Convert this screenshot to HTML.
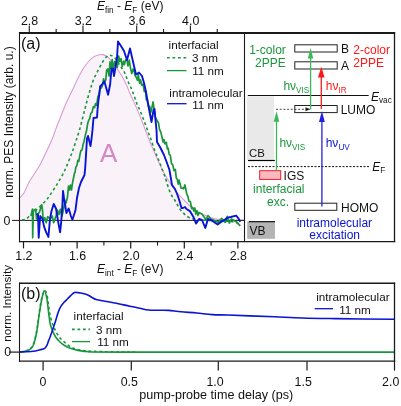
<!DOCTYPE html>
<html><head><meta charset="utf-8"><style>
html,body{margin:0;padding:0;background:#fff;}
svg{display:block;will-change:transform;}
text{font-family:"Liberation Sans",sans-serif;}
</style></head><body>
<svg width="401" height="406" viewBox="0 0 401 406">
<rect width="401" height="406" fill="#fff"/>
<path d="M19.00,198.60 C19.83,197.67 22.35,195.68 24.00,193.00 C25.65,190.32 26.45,186.82 28.90,182.50 C31.35,178.18 35.83,172.13 38.70,167.10 C41.57,162.07 43.88,156.90 46.10,152.30 C48.32,147.70 50.28,143.63 52.00,139.50 C53.72,135.37 54.83,131.58 56.40,127.50 C57.97,123.42 59.73,119.17 61.40,115.00 C63.07,110.83 64.55,106.67 66.40,102.50 C68.25,98.33 70.73,93.70 72.50,90.00 C74.27,86.30 75.58,83.22 77.00,80.30 C78.42,77.38 79.67,74.88 81.00,72.50 C82.33,70.12 83.67,67.92 85.00,66.00 C86.33,64.08 87.67,62.43 89.00,61.00 C90.33,59.57 91.50,58.40 93.00,57.40 C94.50,56.40 96.33,55.47 98.00,55.00 C99.67,54.53 101.33,54.23 103.00,54.60 C104.67,54.97 106.33,55.80 108.00,57.20 C109.67,58.60 111.33,60.87 113.00,63.00 C114.67,65.13 116.33,67.50 118.00,70.00 C119.67,72.50 121.58,75.50 123.00,78.00 C124.42,80.50 125.33,82.42 126.50,85.00 C127.67,87.58 128.92,91.00 130.00,93.50 C131.08,96.00 132.08,98.00 133.00,100.00 C133.92,102.00 134.33,102.83 135.50,105.50 C136.67,108.17 138.42,112.08 140.00,116.00 C141.58,119.92 143.33,124.67 145.00,129.00 C146.67,133.33 148.33,137.92 150.00,142.00 C151.67,146.08 153.33,149.67 155.00,153.50 C156.67,157.33 158.50,161.75 160.00,165.00 C161.50,168.25 162.33,170.00 164.00,173.00 C165.67,176.00 168.17,180.17 170.00,183.00 C171.83,185.83 173.33,187.83 175.00,190.00 C176.67,192.17 178.33,194.17 180.00,196.00 C181.67,197.83 183.33,199.33 185.00,201.00 C186.67,202.67 188.33,204.53 190.00,206.00 C191.67,207.47 193.33,208.68 195.00,209.80 C196.67,210.92 198.33,211.78 200.00,212.70 C201.67,213.62 203.33,214.55 205.00,215.30 C206.67,216.05 207.83,216.53 210.00,217.20 C212.17,217.87 215.00,218.80 218.00,219.30 C221.00,219.80 223.67,220.02 228.00,220.20 C232.33,220.38 241.33,220.37 244.00,220.40 L244,219.2 L19,219.2 Z" fill="#f9f2f9" stroke="none"/>
<path d="M19.00,198.60 C19.83,197.67 22.35,195.68 24.00,193.00 C25.65,190.32 26.45,186.82 28.90,182.50 C31.35,178.18 35.83,172.13 38.70,167.10 C41.57,162.07 43.88,156.90 46.10,152.30 C48.32,147.70 50.28,143.63 52.00,139.50 C53.72,135.37 54.83,131.58 56.40,127.50 C57.97,123.42 59.73,119.17 61.40,115.00 C63.07,110.83 64.55,106.67 66.40,102.50 C68.25,98.33 70.73,93.70 72.50,90.00 C74.27,86.30 75.58,83.22 77.00,80.30 C78.42,77.38 79.67,74.88 81.00,72.50 C82.33,70.12 83.67,67.92 85.00,66.00 C86.33,64.08 87.67,62.43 89.00,61.00 C90.33,59.57 91.50,58.40 93.00,57.40 C94.50,56.40 96.33,55.47 98.00,55.00 C99.67,54.53 101.33,54.23 103.00,54.60 C104.67,54.97 106.33,55.80 108.00,57.20 C109.67,58.60 111.33,60.87 113.00,63.00 C114.67,65.13 116.33,67.50 118.00,70.00 C119.67,72.50 121.58,75.50 123.00,78.00 C124.42,80.50 125.33,82.42 126.50,85.00 C127.67,87.58 128.92,91.00 130.00,93.50 C131.08,96.00 132.08,98.00 133.00,100.00 C133.92,102.00 134.33,102.83 135.50,105.50 C136.67,108.17 138.42,112.08 140.00,116.00 C141.58,119.92 143.33,124.67 145.00,129.00 C146.67,133.33 148.33,137.92 150.00,142.00 C151.67,146.08 153.33,149.67 155.00,153.50 C156.67,157.33 158.50,161.75 160.00,165.00 C161.50,168.25 162.33,170.00 164.00,173.00 C165.67,176.00 168.17,180.17 170.00,183.00 C171.83,185.83 173.33,187.83 175.00,190.00 C176.67,192.17 178.33,194.17 180.00,196.00 C181.67,197.83 183.33,199.33 185.00,201.00 C186.67,202.67 188.33,204.53 190.00,206.00 C191.67,207.47 193.33,208.68 195.00,209.80 C196.67,210.92 198.33,211.78 200.00,212.70 C201.67,213.62 203.33,214.55 205.00,215.30 C206.67,216.05 207.83,216.53 210.00,217.20 C212.17,217.87 215.00,218.80 218.00,219.30 C221.00,219.80 223.67,220.02 228.00,220.20 C232.33,220.38 241.33,220.37 244.00,220.40" fill="none" stroke="#dc9ad6" stroke-width="1.1"/>
<text x="108.60" y="162.00" font-size="26" text-anchor="middle" fill="#d488c4" >A</text>
<line x1="12" y1="220.4" x2="245" y2="220.4" stroke="#1a1a1a" stroke-width="1"/>
<path d="M22.00,220.00 C22.67,219.87 24.83,219.78 26.00,219.20 C27.17,218.62 27.83,217.45 29.00,216.50 C30.17,215.55 31.38,214.97 33.00,213.50 C34.62,212.03 36.52,209.90 38.70,207.70 C40.88,205.50 44.22,202.42 46.10,200.30 C47.98,198.18 48.52,197.13 50.00,195.00 C51.48,192.87 53.50,189.83 55.00,187.50 C56.50,185.17 57.58,183.42 59.00,181.00 C60.42,178.58 62.25,175.42 63.50,173.00 C64.75,170.58 65.33,169.25 66.50,166.50 C67.67,163.75 69.42,159.25 70.50,156.50 C71.58,153.75 72.08,152.58 73.00,150.00 C73.92,147.42 74.92,144.33 76.00,141.00 C77.08,137.67 78.42,133.75 79.50,130.00 C80.58,126.25 81.58,122.08 82.50,118.50 C83.42,114.92 84.25,111.42 85.00,108.50 C85.75,105.58 86.25,103.75 87.00,101.00 C87.75,98.25 88.75,94.58 89.50,92.00 C90.25,89.42 90.75,87.75 91.50,85.50 C92.25,83.25 92.92,81.00 94.00,78.50 C95.08,76.00 96.67,73.08 98.00,70.50 C99.33,67.92 100.67,65.20 102.00,63.00 C103.33,60.80 104.67,58.60 106.00,57.30 C107.33,56.00 108.50,55.08 110.00,55.20 C111.50,55.32 113.50,56.53 115.00,58.00 C116.50,59.47 117.83,62.25 119.00,64.00 C120.17,65.75 121.00,66.92 122.00,68.50 C123.00,70.08 124.00,71.33 125.00,73.50 C126.00,75.67 126.92,78.92 128.00,81.50 C129.08,84.08 130.42,86.42 131.50,89.00 C132.58,91.58 133.58,94.50 134.50,97.00 C135.42,99.50 136.08,101.75 137.00,104.00 C137.92,106.25 139.00,108.17 140.00,110.50 C141.00,112.83 142.00,115.42 143.00,118.00 C144.00,120.58 145.08,123.50 146.00,126.00 C146.92,128.50 147.67,130.75 148.50,133.00 C149.33,135.25 150.08,136.92 151.00,139.50 C151.92,142.08 153.00,145.75 154.00,148.50 C155.00,151.25 156.08,153.75 157.00,156.00 C157.92,158.25 158.67,159.83 159.50,162.00 C160.33,164.17 161.17,166.75 162.00,169.00 C162.83,171.25 163.75,173.42 164.50,175.50 C165.25,177.58 165.75,179.17 166.50,181.50 C167.25,183.83 168.08,187.08 169.00,189.50 C169.92,191.92 171.00,194.17 172.00,196.00 C173.00,197.83 174.17,199.17 175.00,200.50 C175.83,201.83 176.25,202.67 177.00,204.00 C177.75,205.33 178.60,207.17 179.50,208.50 C180.40,209.83 181.32,210.83 182.40,212.00 C183.48,213.17 184.75,214.50 186.00,215.50 C187.25,216.50 188.40,217.37 189.90,218.00 C191.40,218.63 193.32,218.97 195.00,219.30 C196.68,219.63 197.50,219.80 200.00,220.00 C202.50,220.20 206.67,220.33 210.00,220.50 C213.33,220.67 216.67,220.83 220.00,221.00 C223.33,221.17 227.33,221.25 230.00,221.50 C232.67,221.75 234.25,221.92 236.00,222.50 C237.75,223.08 239.75,224.58 240.50,225.00" fill="none" stroke="#19963c" stroke-width="1.6" stroke-dasharray="2.8 2.7"/>
<path d="M31.00,216.00 L31.80,212.00 L32.50,209.00 L32.70,237.70 L33.30,212.00 L34.20,210.00 L35.70,209.20 L36.50,219.00 L38.00,214.00 L39.50,212.00 L41.70,204.70 L42.50,210.00 L43.20,222.00 L44.70,217.50 L46.20,222.70 L47.70,216.70 L50.00,219.00 L52.20,216.00 L53.70,222.70 L56.00,216.00 L57.40,210.00 L59.00,214.50 L60.40,209.20 L62.00,216.00 L63.40,210.00 L65.00,201.00 L66.00,203.00 L67.50,197.00 L68.50,186.00 L69.50,190.00 L70.50,185.00 L71.50,190.00 L72.50,183.00 L73.50,178.00 L74.50,173.00 L75.00,172.44 L75.86,167.35 L76.97,165.11 L77.84,160.44 L78.79,161.32 L79.83,155.39 L80.82,150.77 L82.09,149.88 L83.12,144.16 L84.06,141.44 L85.21,135.60 L86.42,131.28 L87.72,123.41 L88.61,120.43 L89.71,118.63 L90.85,113.41 L92.00,112.42 L93.34,106.66 L94.56,107.65 L95.54,103.49 L96.62,105.40 L97.86,96.98 L99.17,93.16 L100.48,85.58 L101.53,87.89 L102.44,85.42 L103.53,78.82 L104.59,82.15 L105.79,79.83 L106.65,70.04 L107.91,68.82 L109.08,76.05 L110.00,61.84 L110.91,68.31 L112.21,59.69 L113.23,72.01 L114.60,61.47 L115.48,65.23 L116.39,60.96 L117.30,67.40 L118.66,56.03 L119.69,61.56 L120.94,58.64 L122.31,66.30 L123.54,61.24 L124.38,64.52 L125.59,59.84 L126.96,59.87 L127.91,65.95 L129.23,60.13 L130.49,68.09 L131.75,73.43 L133.01,69.18 L134.05,70.28 L134.97,75.25 L136.24,77.43 L137.42,80.28 L138.26,74.38 L139.59,83.19 L140.54,79.76 L141.68,85.06 L143.01,84.10 L144.33,91.58 L145.45,90.22 L146.37,99.92 L147.46,99.52 L148.57,106.38 L149.70,106.46 L150.81,112.37 L151.88,107.76 L153.08,101.95 L154.42,111.20 L155.39,117.62 L156.29,119.24 L157.25,120.64 L158.57,123.43 L159.47,129.17 L160.82,132.10 L162.10,137.45 L163.12,142.00 L163.95,139.52 L164.96,143.82 L166.33,142.43 L167.30,148.84 L168.19,148.17 L169.16,154.35 L170.37,155.33 L171.43,163.40 L172.69,164.73 L173.99,170.59 L175.33,169.42 L176.28,177.87 L177.22,179.20 L178.21,184.14 L179.04,180.07 L180.17,184.15 L181.05,188.11 L182.34,188.04 L183.70,188.77 L184.88,184.93 L185.77,188.81 L186.69,193.80 L187.88,196.28 L188.96,201.23 L190.31,201.51 L191.67,208.58 L192.70,207.30 L193.81,210.93 L194.85,208.00 L195.80,214.07 L196.99,210.73 L198.00,215.51 L199.17,212.73 L202.00,214.00 L206.00,219.70 L208.00,215.60 L211.00,219.00 L214.20,220.40 L218.30,222.40 L221.70,218.30 L225.20,222.40 L227.20,216.30 L229.30,223.10 L231.40,219.00 L236.20,221.70 L240.30,225.90" fill="none" stroke="#19963c" stroke-width="1.7" stroke-linejoin="round"/>
<path d="M36.50,214.00 L38.00,214.50 L38.70,237.70 L40.20,216.00 L42.50,219.00 L44.00,226.40 L46.20,232.40 L48.40,236.90 L50.00,219.00 L51.40,211.50 L53.70,204.00 L56.00,208.50 L58.20,222.00 L60.10,232.40 L61.20,222.00 L62.40,205.00 L63.00,191.00 L64.00,198.00 L65.00,204.00 L66.40,213.00 L68.70,208.50 L70.90,216.00 L72.40,219.70 L74.60,213.00 L75.50,210.00 L77.00,198.00 L79.00,188.00 L81.00,182.00 L83.00,178.00 L84.50,175.00 L85.20,168.00 L86.00,155.00 L87.00,138.50 L88.00,136.00 L90.50,146.00 L91.50,139.00 L92.50,130.00 L93.50,118.00 L97.00,117.50 L97.50,110.00 L98.50,100.00 L99.50,93.00 L100.20,86.50 L102.20,84.40 L104.40,81.40 L108.10,94.70 L110.20,84.00 L111.50,68.50 L113.00,69.00 L114.00,76.00 L115.00,70.00 L117.00,58.00 L118.00,41.50 L121.00,46.00 L124.00,51.00 L127.00,60.00 L130.00,48.50 L131.50,55.00 L134.00,66.00 L136.00,74.50 L139.00,72.50 L142.00,76.00 L144.00,83.00 L146.00,92.00 L147.50,101.00 L151.50,122.00 L153.50,110.00 L154.50,109.00 L155.50,120.00 L156.50,130.00 L157.00,142.00 L160.00,147.00 L164.00,155.00 L167.00,163.00 L169.50,170.00 L170.50,176.00 L172.00,185.00 L175.00,189.00 L177.50,195.00 L179.50,201.00 L181.50,208.00 L183.00,208.00 L185.00,207.00 L186.50,209.00 L189.90,211.10 L193.60,217.30 L196.10,223.60 L199.10,219.00 L202.00,220.00 L205.30,227.90 L208.00,219.00 L211.50,220.40 L214.00,222.00 L217.60,224.50 L220.40,222.40 L223.80,220.40 L227.90,217.60 L230.70,217.00 L236.20,215.60 L238.90,219.00 L240.30,221.70" fill="none" stroke="#0a14d2" stroke-width="1.9" stroke-linejoin="round"/>
<line x1="19.50" y1="32.10" x2="19.50" y2="242.20" stroke="#1a1a1a" stroke-width="1.1"/>
<line x1="18.95" y1="33.00" x2="395.15" y2="33.00" stroke="#1a1a1a" stroke-width="1.8"/>
<line x1="394.50" y1="32.10" x2="394.50" y2="242.20" stroke="#1a1a1a" stroke-width="1.3"/>
<line x1="18.95" y1="241.60" x2="395.15" y2="241.60" stroke="#1a1a1a" stroke-width="1.3"/>
<line x1="244.50" y1="33.00" x2="244.50" y2="241.60" stroke="#1a1a1a" stroke-width="1.1"/>
<line x1="29.30" y1="25.5" x2="29.30" y2="33" stroke="#1a1a1a" stroke-width="1.1"/>
<text x="29.60" y="24.80" font-size="12.4" text-anchor="middle" fill="#111" >2.8</text>
<line x1="56.15" y1="29" x2="56.15" y2="33" stroke="#1a1a1a" stroke-width="1.1"/>
<line x1="83.00" y1="25.5" x2="83.00" y2="33" stroke="#1a1a1a" stroke-width="1.1"/>
<text x="83.30" y="24.80" font-size="12.4" text-anchor="middle" fill="#111" >3.2</text>
<line x1="109.85" y1="29" x2="109.85" y2="33" stroke="#1a1a1a" stroke-width="1.1"/>
<line x1="136.70" y1="25.5" x2="136.70" y2="33" stroke="#1a1a1a" stroke-width="1.1"/>
<text x="137.00" y="24.80" font-size="12.4" text-anchor="middle" fill="#111" >3.6</text>
<line x1="163.55" y1="29" x2="163.55" y2="33" stroke="#1a1a1a" stroke-width="1.1"/>
<line x1="190.40" y1="25.5" x2="190.40" y2="33" stroke="#1a1a1a" stroke-width="1.1"/>
<text x="190.70" y="24.80" font-size="12.4" text-anchor="middle" fill="#111" >4.0</text>
<line x1="217.25" y1="29" x2="217.25" y2="33" stroke="#1a1a1a" stroke-width="1.1"/>
<line x1="23.50" y1="241.6" x2="23.50" y2="248.4" stroke="#1a1a1a" stroke-width="1.2"/>
<text x="23.90" y="260.00" font-size="12.4" text-anchor="middle" fill="#111" >1.2</text>
<line x1="50.30" y1="241.6" x2="50.30" y2="245.5" stroke="#1a1a1a" stroke-width="1.1"/>
<line x1="77.10" y1="241.6" x2="77.10" y2="248.4" stroke="#1a1a1a" stroke-width="1.2"/>
<text x="77.50" y="260.00" font-size="12.4" text-anchor="middle" fill="#111" >1.6</text>
<line x1="103.90" y1="241.6" x2="103.90" y2="245.5" stroke="#1a1a1a" stroke-width="1.1"/>
<line x1="130.70" y1="241.6" x2="130.70" y2="248.4" stroke="#1a1a1a" stroke-width="1.2"/>
<text x="131.10" y="260.00" font-size="12.4" text-anchor="middle" fill="#111" >2.0</text>
<line x1="157.50" y1="241.6" x2="157.50" y2="245.5" stroke="#1a1a1a" stroke-width="1.1"/>
<line x1="184.30" y1="241.6" x2="184.30" y2="248.4" stroke="#1a1a1a" stroke-width="1.2"/>
<text x="184.70" y="260.00" font-size="12.4" text-anchor="middle" fill="#111" >2.4</text>
<line x1="211.10" y1="241.6" x2="211.10" y2="245.5" stroke="#1a1a1a" stroke-width="1.1"/>
<line x1="237.90" y1="241.6" x2="237.90" y2="248.4" stroke="#1a1a1a" stroke-width="1.2"/>
<text x="238.30" y="260.00" font-size="12.4" text-anchor="middle" fill="#111" >2.8</text>
<text x="97.00" y="273.00" font-size="12" fill="#111"><tspan font-style="italic">E</tspan><tspan font-size="8.2" dy="2.5">int</tspan><tspan dy="-2.5"> - </tspan><tspan font-style="italic">E</tspan><tspan font-size="8.2" dy="2.5">F</tspan><tspan dy="-2.5"> (eV)</tspan></text>
<text x="97.00" y="10.00" font-size="12" fill="#111"><tspan font-style="italic">E</tspan><tspan font-size="8.2" dy="2.5">fin</tspan><tspan dy="-2.5"> - </tspan><tspan font-style="italic">E</tspan><tspan font-size="8.2" dy="2.5">F</tspan><tspan dy="-2.5"> (eV)</tspan></text>
<text transform="translate(12.5,122) rotate(-90)" font-size="12" text-anchor="middle" fill="#111">norm. PES Intensity (arb. u.)</text>
<text x="3.50" y="224.80" font-size="12.4" text-anchor="start" fill="#111" >0</text>
<text x="21.00" y="49.00" font-size="16" text-anchor="start" fill="#111" >(a)</text>
<text x="168.60" y="48.80" font-size="11.7" text-anchor="start" fill="#111" >interfacial</text>
<line x1="167" y1="57.8" x2="187" y2="57.8" stroke="#19963c" stroke-width="1.6" stroke-dasharray="2.7 2.8"/>
<text x="192.00" y="61.80" font-size="11.7" text-anchor="start" fill="#111" >3 nm</text>
<line x1="167" y1="70.6" x2="186.5" y2="70.6" stroke="#19963c" stroke-width="1.3"/>
<text x="192.20" y="75.40" font-size="11.7" text-anchor="start" fill="#111" >11 nm</text>
<text x="169.30" y="96.60" font-size="11.7" text-anchor="start" fill="#111" >intramolecular</text>
<line x1="167" y1="103.7" x2="186.5" y2="103.7" stroke="#0a14d2" stroke-width="1.3"/>
<text x="192.20" y="109.20" font-size="11.7" text-anchor="start" fill="#111" >11 nm</text>
<rect x="247" y="96.3" width="27" height="63.6" fill="#e9e9e9"/>
<line x1="248" y1="160.5" x2="274.8" y2="160.5" stroke="#000" stroke-width="1.2"/>
<text x="249.10" y="157.00" font-size="11.4" text-anchor="start" fill="#111" >CB</text>
<rect x="247.2" y="221.5" width="27.8" height="17.3" fill="#b4b4b4"/>
<line x1="248.8" y1="221.7" x2="275" y2="221.7" stroke="#000" stroke-width="1.1"/>
<text x="249.60" y="234.60" font-size="12" text-anchor="start" fill="#111" >VB</text>
<line x1="247.8" y1="95.5" x2="368.7" y2="95.5" stroke="#111" stroke-width="1.2"/>
<text x="371" y="100.5" font-size="12" fill="#111"><tspan font-style="italic">E</tspan><tspan font-size="8.2" dy="2">vac</tspan></text>
<line x1="248" y1="166.6" x2="369.5" y2="166.6" stroke="#111" stroke-width="1" stroke-dasharray="2 1.5"/>
<text x="372.3" y="170.7" font-size="12" fill="#111"><tspan font-style="italic">E</tspan><tspan font-size="8.2" dy="2.5">F</tspan></text>
<rect x="294.80" y="44.80" width="42.40" height="7.20" fill="#fff" stroke="#222" stroke-width="1"/>
<rect x="294.80" y="61.80" width="42.40" height="7.20" fill="#fff" stroke="#222" stroke-width="1"/>
<rect x="294.80" y="105.50" width="42.40" height="7.10" fill="#fff" stroke="#222" stroke-width="1"/>
<rect x="294.80" y="203.20" width="42.00" height="7.10" fill="#fff" stroke="#222" stroke-width="1"/>
<text x="341.00" y="52.80" font-size="12" text-anchor="start" fill="#111" >B</text>
<text x="341.00" y="70.20" font-size="12" text-anchor="start" fill="#111" >A</text>
<text x="340.70" y="114.00" font-size="12" text-anchor="start" fill="#111" >LUMO</text>
<text x="341.00" y="211.50" font-size="12" text-anchor="start" fill="#111" >HOMO</text>
<rect x="259.7" y="170.7" width="21" height="8.7" fill="#f9b9c1" stroke="#ee1c24" stroke-width="1"/>
<text x="283.60" y="180.00" font-size="12" text-anchor="start" fill="#111" >IGS</text>
<text x="249.20" y="53.80" font-size="12" text-anchor="start" fill="#19963c" >1-color</text>
<text x="255.00" y="67.20" font-size="12" text-anchor="start" fill="#19963c" >2PPE</text>
<text x="353.30" y="53.50" font-size="12" text-anchor="start" fill="#ff1a1a" >2-color</text>
<text x="353.30" y="66.80" font-size="12" text-anchor="start" fill="#ff1a1a" >2PPE</text>
<text x="278.80" y="193.20" font-size="12" text-anchor="middle" fill="#19963c" >interfacial</text>
<text x="278.10" y="206.00" font-size="12" text-anchor="middle" fill="#19963c" >exc.</text>
<text x="334.40" y="227.20" font-size="12" text-anchor="middle" fill="#0a14d2" >intramolecular</text>
<text x="334.70" y="239.00" font-size="12" text-anchor="middle" fill="#0a14d2" >excitation</text>
<text x="283.40" y="90.00" font-size="12" fill="#19963c">h&#957;<tspan font-size="8.2" dy="3">VIS</tspan></text>
<text x="279.40" y="147.00" font-size="12" fill="#19963c">h&#957;<tspan font-size="8.2" dy="3">VIS</tspan></text>
<text x="325.80" y="89.50" font-size="12" fill="#ff1a1a">h&#957;<tspan font-size="8.2" dy="3">IR</tspan></text>
<text x="325.70" y="147.00" font-size="12" fill="#0a14d2">h&#957;<tspan font-size="8.2" dy="3">UV</tspan></text>
<line x1="310.60" y1="57.50" x2="310.60" y2="109.30" stroke="#3cb85a" stroke-width="1.3"/><path d="M310.60,48.00 L307.90,58.50 L313.30,58.50 Z" fill="#3cb85a"/>
<line x1="321.30" y1="76.50" x2="321.30" y2="109.00" stroke="#ff1a1a" stroke-width="1.3"/><path d="M321.30,66.80 L318.00,77.50 L324.60,77.50 Z" fill="#ff1a1a"/>
<line x1="276.50" y1="120.70" x2="276.50" y2="170.70" stroke="#3cb85a" stroke-width="1.3"/><path d="M276.50,111.20 L273.70,121.70 L279.30,121.70 Z" fill="#3cb85a"/>
<line x1="321.90" y1="121.00" x2="321.90" y2="206.50" stroke="#2020e0" stroke-width="1.3"/><path d="M321.90,111.00 L319.00,122.00 L324.80,122.00 Z" fill="#2020e0"/>
<line x1="276" y1="109.3" x2="306" y2="109.3" stroke="#333" stroke-width="0.9" stroke-dasharray="2 1.7"/>
<path d="M310.5,109.3 L305.5,107.3 L305.5,111.3 Z" fill="#222"/>
<line x1="9" y1="352.1" x2="19.6" y2="352.1" stroke="#1a1a1a" stroke-width="1.2"/>
<path d="M20.00,352.00 C21.33,351.67 25.83,351.17 28.00,350.00 C30.17,348.83 31.55,348.17 33.00,345.00 C34.45,341.83 35.67,336.33 36.70,331.00 C37.73,325.67 38.37,318.42 39.20,313.00 C40.03,307.58 40.82,302.17 41.70,298.50 C42.58,294.83 43.63,291.67 44.50,291.00 C45.37,290.33 46.22,292.05 46.90,294.50 C47.58,296.95 48.03,302.12 48.60,305.70 C49.17,309.28 49.58,312.83 50.30,316.00 C51.02,319.17 52.03,322.25 52.90,324.70 C53.77,327.15 54.48,328.70 55.50,330.70 C56.52,332.70 57.57,334.83 59.00,336.70 C60.43,338.57 62.10,340.18 64.10,341.90 C66.10,343.62 68.12,345.60 71.00,347.00 C73.88,348.40 77.40,349.57 81.40,350.30 C85.40,351.03 88.57,351.12 95.00,351.40 C101.43,351.68 113.33,351.88 120.00,352.00 C126.67,352.12 132.50,352.08 135.00,352.10" fill="none" stroke="#19963c" stroke-width="1.6" stroke-dasharray="2.8 2.7"/>
<path d="M20.00,352.00 C21.33,351.75 25.83,351.50 28.00,350.50 C30.17,349.50 31.55,349.08 33.00,346.00 C34.45,342.92 35.67,337.27 36.70,332.00 C37.73,326.73 38.37,319.82 39.20,314.40 C40.03,308.98 40.87,303.43 41.70,299.50 C42.53,295.57 43.33,290.92 44.20,290.80 C45.07,290.68 46.17,295.17 46.90,298.80 C47.63,302.43 48.03,308.37 48.60,312.60 C49.17,316.83 49.58,321.03 50.30,324.20 C51.02,327.37 52.03,329.52 52.90,331.60 C53.77,333.68 54.48,335.13 55.50,336.70 C56.52,338.27 57.57,339.57 59.00,341.00 C60.43,342.43 62.10,344.03 64.10,345.30 C66.10,346.57 68.68,347.75 71.00,348.60 C73.32,349.45 74.83,349.88 78.00,350.40 C81.17,350.92 83.00,351.42 90.00,351.70 C97.00,351.98 69.25,352.03 120.00,352.10 C170.75,352.17 348.75,352.10 394.50,352.10" fill="none" stroke="#19963c" stroke-width="1.6"/>
<path d="M20.00,352.00 C22.17,351.88 29.67,351.68 33.00,351.30 C36.33,350.92 38.12,350.15 40.00,349.70 C41.88,349.25 43.15,349.33 44.30,348.60 C45.45,347.87 46.18,346.63 46.90,345.30 C47.62,343.97 48.03,342.07 48.60,340.60 C49.17,339.13 49.58,338.43 50.30,336.50 C51.02,334.57 52.03,331.55 52.90,329.00 C53.77,326.45 54.63,323.93 55.50,321.20 C56.37,318.47 57.23,315.03 58.10,312.60 C58.97,310.17 59.70,308.33 60.70,306.60 C61.70,304.87 62.95,303.50 64.10,302.20 C65.25,300.90 66.45,299.95 67.60,298.80 C68.75,297.65 69.85,296.33 71.00,295.30 C72.15,294.27 73.35,293.05 74.50,292.60 C75.65,292.15 76.47,292.45 77.90,292.60 C79.33,292.75 81.37,293.07 83.10,293.50 C84.83,293.93 86.82,294.53 88.30,295.20 C89.78,295.87 90.68,296.78 92.00,297.50 C93.32,298.22 94.05,298.88 96.20,299.50 C98.35,300.12 101.78,300.62 104.90,301.20 C108.02,301.78 110.75,302.17 114.90,303.00 C119.05,303.83 125.65,305.33 129.80,306.20 C133.95,307.07 136.68,307.57 139.80,308.20 C142.92,308.83 145.17,309.67 148.50,310.00 C151.83,310.33 156.43,310.13 159.80,310.20 C163.17,310.27 165.17,310.13 168.70,310.40 C172.23,310.67 176.33,311.37 181.00,311.80 C185.67,312.23 191.48,312.53 196.70,313.00 C201.92,313.47 207.10,314.27 212.30,314.60 C217.50,314.93 221.67,314.78 227.90,315.00 C234.13,315.22 241.92,315.60 249.70,315.90 C257.48,316.20 265.80,316.45 274.60,316.80 C283.40,317.15 292.43,317.70 302.50,318.00 C312.57,318.30 319.67,318.38 335.00,318.60 C350.33,318.82 384.58,319.18 394.50,319.30" fill="none" stroke="#0a14d2" stroke-width="1.6"/>
<line x1="19.50" y1="282.60" x2="19.50" y2="361.80" stroke="#1a1a1a" stroke-width="1.1"/>
<line x1="394.50" y1="282.60" x2="394.50" y2="361.80" stroke="#1a1a1a" stroke-width="1.3"/>
<line x1="18.95" y1="283.30" x2="395.15" y2="283.30" stroke="#1a1a1a" stroke-width="1.4"/>
<line x1="18.95" y1="361.20" x2="395.15" y2="361.20" stroke="#1a1a1a" stroke-width="1.2"/>
<line x1="43.10" y1="361.2" x2="43.10" y2="370.6" stroke="#1a1a1a" stroke-width="1.2"/>
<text x="42.90" y="386.00" font-size="12.4" text-anchor="middle" fill="#111" >0</text>
<line x1="131.30" y1="361.2" x2="131.30" y2="370.6" stroke="#1a1a1a" stroke-width="1.2"/>
<text x="129.30" y="386.00" font-size="12.4" text-anchor="middle" fill="#111" >0.5</text>
<line x1="218.30" y1="361.2" x2="218.30" y2="370.6" stroke="#1a1a1a" stroke-width="1.2"/>
<text x="215.10" y="386.00" font-size="12.4" text-anchor="middle" fill="#111" >1.0</text>
<line x1="307.00" y1="361.2" x2="307.00" y2="370.6" stroke="#1a1a1a" stroke-width="1.2"/>
<text x="303.20" y="386.00" font-size="12.4" text-anchor="middle" fill="#111" >1.5</text>
<line x1="394.50" y1="361.2" x2="394.50" y2="370.6" stroke="#1a1a1a" stroke-width="1.2"/>
<text x="390.70" y="386.00" font-size="12.4" text-anchor="middle" fill="#111" >2.0</text>
<text x="216.20" y="399.30" font-size="12.6" text-anchor="middle" fill="#111" >pump-probe time delay (ps)</text>
<text transform="translate(11,303.3) rotate(-90)" font-size="11.7" text-anchor="middle" fill="#111">norm. Intensity</text>
<text x="4.20" y="355.80" font-size="12.4" text-anchor="start" fill="#111" >0</text>
<text x="21.00" y="299.00" font-size="16" text-anchor="start" fill="#111" >(b)</text>
<text x="73.60" y="319.80" font-size="11.7" text-anchor="start" fill="#111" >interfacial</text>
<line x1="72" y1="329.4" x2="90" y2="329.4" stroke="#19963c" stroke-width="1.6" stroke-dasharray="2.7 2.8"/>
<text x="96.00" y="333.60" font-size="11.7" text-anchor="start" fill="#111" >3 nm</text>
<line x1="72" y1="341.6" x2="90" y2="341.6" stroke="#19963c" stroke-width="1.3"/>
<text x="97.20" y="345.60" font-size="11.7" text-anchor="start" fill="#111" >11 nm</text>
<text x="316.20" y="300.80" font-size="11.7" text-anchor="start" fill="#111" >intramolecular</text>
<line x1="314.7" y1="308.7" x2="333" y2="308.7" stroke="#0a14d2" stroke-width="1.3"/>
<text x="339.20" y="313.60" font-size="11.7" text-anchor="start" fill="#111" >11 nm</text>
</svg></body></html>
